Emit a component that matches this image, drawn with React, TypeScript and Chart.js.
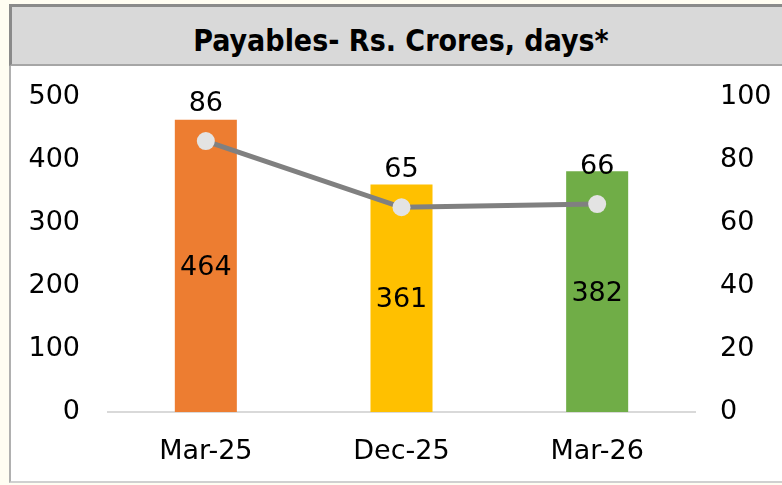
import { useEffect, useRef } from "react";
import { Chart, registerables } from "chart.js";
Chart.register(...registerables);

const title = "Payables- Rs. Crores, days*";
const categories = ["Mar-25", "Dec-25", "Mar-26"];
const payables = [464, 361, 382];
const days = [86, 65, 66];
const barColors = ["#ED7D31", "#FFC000", "#70AD47"];
const leftAxis = { min: 0, max: 500, step: 100 };
const rightAxis = { min: 0, max: 100, step: 20 };

const FONT = "'DejaVu Sans', sans-serif";
const FS = 27;

const labelPlugin = {
  id: "valueLabels",
  afterDatasetsDraw(chart: any) {
    const ctx = chart.ctx;
    ctx.save();
    ctx.font = `${FS}px ${FONT}`;
    ctx.fillStyle = "#000";
    ctx.textAlign = "center";
    ctx.textBaseline = "middle";
    chart.data.datasets.forEach((ds: any, di: number) => {
      const meta = chart.getDatasetMeta(di);
      meta.data.forEach((el: any, i: number) => {
        const v = ds.data[i];
        if (ds.type === "bar") {
          const y = (el.y + el.base) / 2;
          ctx.fillText(String(v), el.x, y + 2);
        } else {
          ctx.fillText(String(v), el.x, el.y - 37);
        }
      });
    });
    ctx.restore();
  },
};

export default function App() {
  const ref = useRef<HTMLCanvasElement>(null);
  useEffect(() => {
    if (!ref.current) return;
    const chart = new Chart(ref.current, {
      type: "bar",
      data: {
        labels: categories,
        datasets: [
          {
            type: "line",
            data: days,
            yAxisID: "y1",
            borderColor: "#808080",
            borderWidth: 5,
            pointRadius: 9,
            pointBackgroundColor: "#e3e3e3",
            pointBorderWidth: 0,
            order: 0,
          } as any,
          {
            type: "bar",
            data: payables,
            yAxisID: "y",
            backgroundColor: barColors,
            barPercentage: 0.317,
            categoryPercentage: 1,
            order: 1,
          } as any,
        ],
      },
      options: {
        responsive: false,
        animation: false,
        devicePixelRatio: 1,
        layout: { padding: { top: 97, bottom: 0, left: 0, right: 0 } },
        plugins: { legend: { display: false }, tooltip: { enabled: false }, title: { display: false } },
        scales: {
          x: {
            grid: { display: false, drawTicks: false },
            border: { display: true, color: "#d9d9d9", width: 2 },
            ticks: { color: "#000", font: { family: FONT, size: FS }, padding: 24 },
            afterFit: (s: any) => { s.height = 73; },
          },
          y: {
            position: "left",
            min: leftAxis.min,
            max: leftAxis.max,
            grid: { display: false, drawTicks: false },
            border: { display: false },
            ticks: { stepSize: leftAxis.step, color: "#000", font: { family: FONT, size: FS }, padding: 28 },
            afterFit: (s: any) => { s.width = 108; },
          },
          y1: {
            position: "right",
            min: rightAxis.min,
            max: rightAxis.max,
            grid: { display: false, drawTicks: false },
            border: { display: false },
            ticks: { stepSize: rightAxis.step, color: "#000", font: { family: FONT, size: FS }, padding: 25 },
            afterFit: (s: any) => { s.width = 87; },
          },
        },
      },
      plugins: [labelPlugin],
    });
    return () => chart.destroy();
  }, []);

  return (
    <div style={{ position: "fixed", left: 0, top: 0, width: 782, height: 485, overflow: "hidden", background: "#fffdf2" }}>
      <div
        style={{
          position: "absolute", left: 9, top: 4, width: 800, height: 62, boxSizing: "border-box",
          background: "#d9d9d9", borderTop: "3px solid #8a8a8a", borderLeft: "3px solid #8a8a8a",
          borderBottom: "2px solid #a6a6a6",
        }}
      />
      <div
        style={{
          position: "absolute", left: 9, top: 66, width: 800, height: 417, boxSizing: "border-box",
          background: "#ffffff", borderLeft: "2px solid #b0b0b0", borderBottom: "2px solid #d0d0d0",
        }}
      />
      <div
        style={{
          position: "absolute", left: 51, top: 19, width: 700, textAlign: "center",
          fontFamily: "'DejaVu Sans Condensed', 'DejaVu Sans', sans-serif", fontWeight: "bold",
          fontSize: 30, lineHeight: "44px", color: "#000",
        }}
      >
        {title}
      </div>
      <canvas ref={ref} width={782} height={485} style={{ position: "absolute", left: 0, top: 0, width: 782, height: 485 }} />
    </div>
  );
}
